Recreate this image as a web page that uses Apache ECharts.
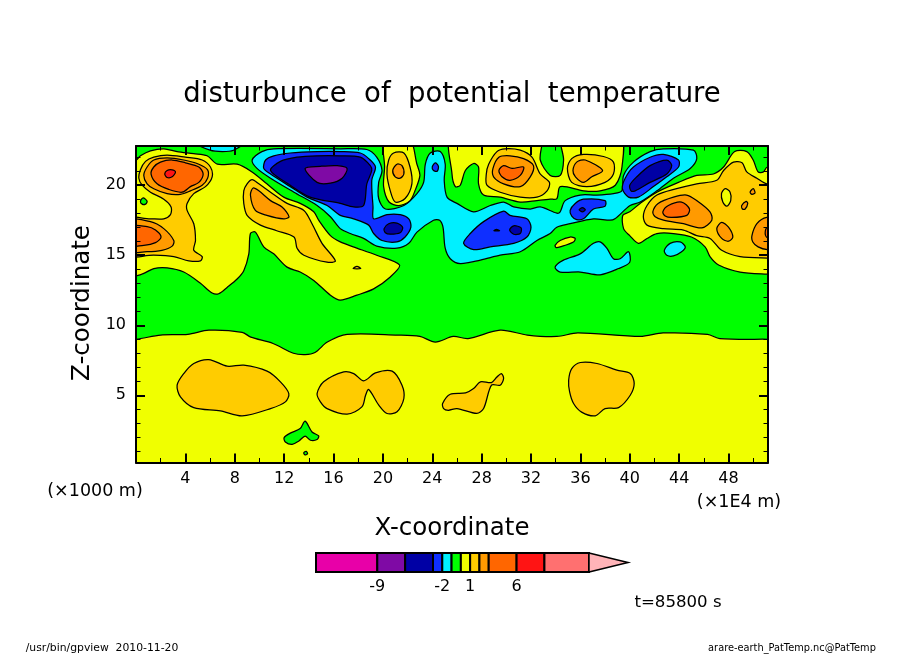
<!DOCTYPE html>
<html><head><meta charset="utf-8">
<style>html,body{margin:0;padding:0;background:#fff}#c{width:904px;height:654px}</style>
<script src="https://cdn.jsdelivr.net/npm/echarts@6/dist/echarts.min.js"></script>
</head><body><div id="c"></div>
<script>
// tick values
const xMajor=[4,8,12,16,20,24,28,32,36,40,44,48];
const xMinor=[2,6,10,14,18,22,26,30,34,38,42,46,50];
const zMajor=[5,10,15,20];
const zMinor=[1,2,3,4,6,7,8,9,11,12,13,14,16,17,18,19,21,22];
// colour-bar
const barLevels=[-15.6,-9,-6,-3,-2,-1,0,1,2,3,6,9,13.8];
const barTip=18;
const barLabels=[-9,-2,1,6];
const MAG='#e800a8',PUR='#7f0aa5',NAVY='#0000a5',BLUE='#0f2fff',CYAN='#00f0ff',GREEN='#00ff00',YEL='#f0ff00',GOLD='#ffcc00',ORA='#ff9a00',DOR='#ff6600',RED='#ff1414',SAL='#ff7070',PINK='#ffb4b8';
const barColors=[MAG,PUR,NAVY,BLUE,CYAN,GREEN,YEL,GOLD,ORA,DOR,RED,SAL];
// contour regions: [x, z] in axis units
const greenBand=[[-1,9],[0,9],[2,9.3],[4.2,9.35],[5.9,9.65],[8.6,9.5],[9.3,9.15],[11.1,8.7],[12.75,8],[13.7,7.9],[14.5,8.05],[15.5,8.8],[17.1,9.35],[21.2,9.3],[23,9.2],[24.25,8.8],[25.7,9.2],[26.9,9.05],[29.5,9.65],[31.7,9.3],[34.1,9.2],[35.8,9.45],[40.85,9.2],[42.7,9.45],[46.3,9.35],[47.3,9.05],[51.2,9],[53,9],[53,25],[-1,25]];
const cyanStrip=[[4.4,23.2],[6,22.5],[7,22.4],[7.9,22.5],[9,23.2]];
const yellowLeft=[[-1,21.7],[0,21.8],[.36,22.1],[1.17,22.45],[2.25,22.6],[3.33,22.4],[4.68,22.25],[5.76,22.1],[6.6,21.5],[8.2,21.5],[9.4,20.95],[10.6,20.1],[11.97,19.15],[13.3,18.7],[14.4,18.1],[14.8,17.5],[15.75,16.4],[16.55,15.95],[17.6,15.6],[19.5,15],[21.35,14.3],[20.6,13.45],[19.25,12.6],[17.9,12.15],[16.55,11.8],[15.75,12.15],[14.4,13.2],[13.3,13.8],[12.24,14.15],[11.16,15.1],[10.35,15.6],[9.67,16.65],[9.27,16.55],[9.14,15.1],[8.73,13.9],[8.19,13.3],[7.38,12.7],[6.7,12.25],[6.17,12.3],[5.22,13],[3.87,13.8],[2.52,14.1],[1.44,14.05],[.63,13.7],[.09,13.55],[-1,13.5]];
const goldTiny=[[17.6,14.05],[18.2,14.05],[17.9,14.2]];
const goldLeft=[[.23,20.5],[.36,21.1],[.77,21.7],[1.44,22],[2.52,22.15],[4,22],[5.36,21.8],[6.03,21.3],[6.17,20.6],[5.63,19.9],[4.68,19.4],[4.14,18.7],[4.14,18.2],[4.68,17.25],[4.82,16.05],[4.68,15.35],[5.36,14.9],[5.22,14.6],[4.28,14.6],[3.06,14.9],[1.44,15],[-1,15],[-1,17.6],[1.17,17.6],[2.25,17.6],[2.79,17.9],[2.84,18.45],[2.25,19],[1.17,19.5],[.5,20]];
const orangeTop=[[.63,20.7],[.9,21.3],[1.44,21.8],[2.52,21.95],[3.87,21.8],[5.09,21.5],[5.8,21.1],[5.8,20.5],[5.36,20],[4.41,19.6],[3.6,19.35],[2.52,19.4],[1.44,19.75],[.9,20.1]];
const darkTop=[[1.22,20.8],[1.44,21.3],[1.98,21.65],[2.93,21.8],[4,21.6],[5.09,21.3],[5.44,20.8],[5.09,20.2],[4.41,19.9],[3.73,19.5],[2.65,19.7],[1.71,20.1]];
const redTop=[[2.33,20.8],[2.52,21.05],[2.93,21.1],[3.2,20.95],[2.93,20.6],[2.52,20.55]];
const orangeLow=[[-1,17.5],[1.17,17.4],[2.25,16.9],[3.06,16.05],[2.93,15.65],[2.1,15.35],[.9,15.25],[-1,15.3]];
const darkLow=[[-1,17.05],[.9,17.05],[1.58,16.8],[2.03,16.3],[1.58,15.9],[.63,15.7],[-1,15.7]];
const greenDot=[[.36,18.85],[.58,19.1],[.9,18.85],[.77,18.65],[.5,18.65]];
const goldMid=[[8.73,19.6],[9,20.1],[9.41,20.4],[9.95,20.1],[10.9,19.5],[12.24,18.7],[13.6,18.2],[14.26,17.25],[15.07,15.85],[16.15,14.6],[15.48,14.5],[13.6,15],[13.05,15.5],[12.8,16.3],[11.4,16.75],[10.08,17.15],[9,17.85],[8.73,18.7]];
const orangeMid=[[9.27,19.3],[9.49,19.8],[9.95,19.6],[10.9,18.9],[11.83,18.45],[12.4,17.75],[11.97,17.6],[10.6,17.85],[9.67,18.2]];
const cyanMain=[[9.41,21.8],[10.2,22.4],[11.16,22.6],[16.55,22.6],[18.7,22.55],[19.5,22],[19.93,21.05],[19.66,20.2],[19.66,19.05],[20.2,18.3],[21.7,18.55],[22.76,19.4],[23.3,20.2],[23.44,21.5],[23.84,22.3],[24.65,22.4],[25.05,21.5],[24.97,20.35],[25.2,19.15],[26,18.7],[27.35,18.1],[28.7,18.55],[29.78,18.8],[30.6,18.45],[31.94,18.3],[32.75,18.45],[34.1,18],[34.36,18.1],[34.77,18.9],[35.98,19.3],[37.33,19.3],[38.68,19.4],[39.36,19.6],[39.5,20.7],[40.3,21.65],[41.65,22.4],[42.73,22.6],[45.16,22.5],[45.43,21.9],[44.9,21.2],[43.54,20.5],[42.2,19.6],[40.84,18.8],[40.03,18.55],[38.8,17.6],[38.4,17.5],[37.06,17.6],[35.17,17.25],[34.09,17],[33.55,16.55],[32.48,16.05],[31.13,15.25],[29.5,15],[27.9,14.65],[26.27,14.4],[25.46,14.75],[25.05,15.5],[24.87,17],[24.6,17.5],[24.1,17.5],[22.76,16.65],[22.1,15.85],[21.14,15.5],[19.5,15.65],[18.44,16.2],[17.36,16.55],[16.55,16.9],[15.75,17.75],[14.67,18.55],[12.8,19.5],[10.9,20.5],[9.8,21.2]];
const blueMain=[[10.35,21.2],[10.5,21.8],[11.16,22.1],[12.5,22.3],[14.67,22.4],[16.55,22.4],[18.17,22.3],[18.85,21.9],[19.4,21.3],[19.1,20.35],[19.2,18.45],[19.25,17.6],[20.33,17.9],[21.4,17.9],[22.1,17.6],[22.27,17],[21.8,16.3],[21.14,15.95],[19.93,16.05],[19.25,16.55],[18.85,17.15],[17.63,17.6],[16.55,17.85],[15.48,18.55],[13.86,19.15],[12.5,19.9],[10.9,20.8]];
const navyMain=[[10.9,21.05],[11.7,21.7],[13.05,22],[14.67,22.1],[16.55,22.1],[18.17,22],[18.98,21.4],[19.1,21.05],[18.7,20.1],[18.44,18.55],[17.63,18.45],[16.55,18.7],[14.1,19.15],[12.5,20]];
const purpleMain=[[13.7,21.2],[14.94,21.35],[16.3,21.4],[17.1,21.2],[16.7,20.5],[15.75,20.15],[14.67,20.2]];
const navySpot1=[[20.1,16.9],[20.47,17.25],[21.14,17.3],[21.6,17],[21.4,16.6],[20.6,16.5],[20.2,16.6]];
const blueTopSpot=[[24,21.3],[24.25,21.6],[24.5,21.35],[24.4,21],[24.1,21.05]];
const blue2=[[26.54,15.85],[27.08,16.55],[28.16,17.4],[29.78,18.15],[30.3,17.85],[31.67,17.6],[32,17],[31.67,16.3],[30.6,15.85],[28.7,15.6],[27.35,15.4]];
const navySpot2=[[30.27,16.8],[30.6,17.1],[31.2,16.95],[31.13,16.55],[30.6,16.5]];
const navyTiny=[[29,16.75],[29.45,16.75],[29.2,16.85]];
const blue3=[[35.17,18.2],[35.58,18.7],[36.25,19],[38,18.9],[38,18.5],[37.06,18.3],[36.25,17.6],[35.7,17.55],[35.3,17.8]];
const navy3=[[35.9,18.25],[36.17,18.4],[36.4,18.25],[36.17,18.1]];
const blue4=[[39.4,19.75],[39.63,20.5],[40.3,21.3],[41.65,22],[42.73,22.2],[43.95,21.8],[43.95,21.3],[43,20.6],[41.92,19.9],[40.7,19.15],[39.9,19.15]];
const navy4=[[40,20],[40.57,20.6],[41.65,21.4],[43,21.8],[43.4,21.4],[43,20.8],[41.65,20.2],[40.44,19.6],[40.1,19.6]];
const yellowRight=[[39.44,17.85],[40,18.1],[40.84,18.7],[42.2,19.5],[43.95,20.2],[45.43,20.7],[46.78,20.8],[47.6,21.3],[48.5,22.4],[49.48,22.4],[50,21.8],[50.4,20.95],[50.83,20.95],[51.15,21.3],[53,21.3],[53,13.6],[51.15,13.65],[48.94,13.8],[47.2,14.3],[46.5,14.9],[46.1,15.6],[45,16.3],[43.54,16.55],[42.2,16.55],[41.4,16.2],[40.7,15.85],[40,16.4],[39.5,16.9]];
const goldRight=[[41.1,17.75],[41.4,18.55],[42.2,19.3],[43.8,19.75],[45.43,20.1],[47.05,20.35],[47.6,21.05],[48.4,21.65],[49.1,21.6],[49.48,20.95],[50.3,20.5],[51.1,20.1],[53,20.1],[53,14.8],[51.15,14.8],[48.94,14.9],[47.45,15.35],[46.5,16.2],[45.43,16.4],[44.35,16.8],[42.73,16.9],[41.4,17.15]];
const yellowHole=[[47.43,19.4],[47.73,19.75],[48.13,19.5],[48.18,18.9],[47.86,18.5],[47.54,18.8]];
const orangeS1=[[49.75,19.5],[50,19.75],[50.15,19.45],[49.9,19.35]];
const orangeS2=[[49.07,18.55],[49.43,18.85],[49.56,18.7],[49.35,18.3],[49.13,18.3]];
const orangeS3=[[47.05,16.9],[47.45,17.35],[48,17],[48.35,16.3],[48,16],[47.45,16.2]];
const orangeEdge=[[49.9,16.4],[50.3,17.25],[51.1,17.7],[53,17.7],[53,15.4],[51.15,15.4],[50.4,15.6],[49.97,15.95]];
const darkEdge=[[50.97,16.55],[51.15,17],[52,17],[52,16.2],[51.15,16.25]];
const orangeRight=[[41.87,18.1],[42.3,18.7],[43.54,19.15],[44.6,19.3],[45.43,18.9],[46.5,18.1],[46.65,17.5],[45.84,16.95],[44.35,17.25],[42.73,17.5],[42.06,17.75]];
const darkRight=[[42.68,18.1],[43.13,18.55],[44.2,18.8],[44.84,18.3],[44.62,17.85],[43.4,17.7],[42.87,17.8]];
const yellow2=[[20.1,23.5],[22.1,23.5],[22.76,21.5],[23,20.7],[22.6,19.6],[22.2,18.9],[21.3,18.55],[20.5,18.8],[20.06,19.9],[20.14,21.3]];
const gold2=[[20.47,21.8],[20.87,22.3],[21.7,22.3],[22.2,21.3],[22.35,20.1],[21.8,19.05],[21,18.8],[20.6,19.6],[20.33,20.8]];
const orange2=[[20.8,21.05],[21.14,21.5],[21.55,21.4],[21.7,20.8],[21.4,20.5],[21,20.6]];
const yellow3=[[25.6,23.5],[32.75,23.5],[32.75,21.8],[33.56,20.7],[34.37,20.7],[34.64,21.8],[34.5,23.5],[39.23,23.5],[39.37,21.3],[38.83,20],[37.6,19.6],[36.26,19.6],[34.37,19.9],[34.1,19.05],[33.56,19],[32.48,18.9],[31.13,18.8],[29.5,19.15],[28.16,19.3],[27.75,20.1],[27.75,21.3],[27.35,21.55],[26.68,21.05],[26.27,20],[25.87,19.9],[25.6,20.8]];
const gold3=[[28.38,20.8],[28.57,21.5],[29.24,22.4],[29.9,22.6],[31.13,22.5],[32.08,22],[32.75,20.8],[33.5,20.2],[33.3,19.6],[32.48,19.15],[31.13,19.15],[29.5,19.5],[28.43,20]];
const orange3=[[28.92,21.2],[29.4,22],[30.3,22.1],[31.4,21.9],[32.2,21.4],[31.94,20.6],[31.13,19.9],[29.78,20.1],[28.97,20.6]];
const dark3=[[29.4,21.05],[29.78,21.4],[30.46,21.2],[31.4,21.3],[31.13,20.7],[30.3,20.35],[29.65,20.6]];
const gold4=[[34.95,21.2],[35.3,21.9],[36.25,22.2],[37.87,22.05],[38.68,21.65],[38.68,20.8],[38,20.2],[36.52,19.9],[35.3,20.2]];
const orange4=[[35.4,21.05],[35.7,21.65],[36.4,21.8],[37.8,21.05],[36.93,20.6],[36.25,20.2],[35.6,20.6]];
const yellowSmall=[[33.95,15.7],[34.36,16.05],[35.17,16.3],[35.58,16.2],[35.44,15.95],[34.36,15.6],[34.04,15.55]];
const cyan2=[[33.95,14.15],[34.63,14.65],[35.98,15.1],[37.06,15.85],[37.6,15.95],[38.14,15.5],[38.68,14.75],[39.22,14.75],[39.9,15.25],[40,14.5],[39.1,14.05],[37.6,13.6],[36,13.8],[34.36,13.8]];
const cyan3=[[42.8,15.35],[43.27,15.85],[44.08,15.95],[44.5,15.6],[44.2,15.25],[43.54,14.95],[43,15]];
const blobA=[[3.33,5.72],[3.87,6.55],[4.68,7.27],[5.9,7.55],[7.38,7.08],[8.73,7.15],[10.62,6.72],[11.7,5.96],[12.38,5.12],[12.1,4.53],[10.9,4.05],[8.6,3.53],[6.84,3.89],[4.68,4.12],[3.6,4.89]];
const blobB=[[14.67,5.12],[15.2,5.96],[16.83,6.67],[17.64,6.55],[18.45,6.03],[19.4,6.6],[20.75,6.72],[21.55,5.72],[21.7,4.77],[21.15,3.82],[20.34,3.7],[19.67,4.3],[18.85,5.41],[18.6,5],[18.3,4.17],[17.1,3.65],[15.48,4.05],[14.94,4.53]];
const blobC=[[24.84,4.41],[25.46,5.07],[26.7,5.17],[27.35,5.48],[27.9,5.96],[28.8,5.91],[29.24,6.3],[29.6,6.55],[29.78,6.2],[29.5,5.72],[28.8,5.72],[28.16,4.05],[27.6,3.7],[26,4.05],[25.3,3.93],[24.92,4.05]];
const blobD=[[35.05,6.07],[35.3,6.9],[36,7.34],[37.34,7.27],[38.96,6.79],[40.04,6.55],[40.36,5.84],[40.04,5],[39.1,4.12],[38,4.05],[37.2,3.53],[36.1,3.8],[35.45,4.41],[35.13,5.24]];
const greenLow=[[12,1.98],[12.5,2.3],[13.3,2.62],[13.7,3.15],[14.26,2.38],[14.8,2.1],[14.67,1.84],[14.13,1.79],[13.7,2.08],[13.2,1.74],[12.65,1.5],[12.1,1.67]];
const greenTiny=[[13.59,.89],[13.78,1],[13.9,.84],[13.7,.74]];

const layers=[
 [GREEN,greenBand],[CYAN,cyanStrip],
 [YEL,yellowLeft],[GOLD,goldTiny],[GOLD,goldLeft],[ORA,orangeTop],[DOR,darkTop],[RED,redTop],[ORA,orangeLow],[DOR,darkLow],[GREEN,greenDot],
 [GOLD,goldMid],[ORA,orangeMid],
 [CYAN,cyanMain],[BLUE,blueMain],[NAVY,navyMain],[PUR,purpleMain],[NAVY,navySpot1],[BLUE,blueTopSpot],
 [BLUE,blue2],[NAVY,navySpot2],[NAVY,navyTiny],[BLUE,blue3],[NAVY,navy3],[BLUE,blue4],[NAVY,navy4],
 [YEL,yellowRight],[GOLD,goldRight],[YEL,yellowHole],[ORA,orangeS1],[ORA,orangeS2],[ORA,orangeS3],[ORA,orangeEdge],[DOR,darkEdge],[ORA,orangeRight],[DOR,darkRight],
 [YEL,yellow2],[GOLD,gold2],[ORA,orange2],
 [YEL,yellow3],[GOLD,gold3],[ORA,orange3],[DOR,dark3],[GOLD,gold4],[ORA,orange4],
 [YEL,yellowSmall],[CYAN,cyan2],[CYAN,cyan3],
 [GOLD,blobA],[GOLD,blobB],[GOLD,blobC],[GOLD,blobD],[GREEN,greenLow],[GREEN,greenTiny]
];

const FONT='DejaVu Sans';
const xR={min:0,max:51.2}, zR={min:0.2,max:22.8};
function mk(pos,range,vals,len,w,line,label,pad){
 return {type:'value',gridIndex:0,position:pos,min:range.min,max:range.max,z:10,silent:true,
  axisLine:{show:line,onZero:false,lineStyle:{color:'#000',width:2}},
  axisTick:{show:true,inside:true,length:len,customValues:vals,lineStyle:{color:'#000',width:w}},
  axisLabel:label?{show:true,customValues:vals,color:'#000',fontFamily:FONT,fontSize:16,margin:label,padding:pad||0}:{show:false},
  splitLine:{show:false},minorTick:{show:false}};
}
const chart=echarts.init(document.getElementById('c'),null,{renderer:'canvas'});
const txt=(t,x,y,size,rot)=>({type:'text',x,y,rotation:rot||0,style:{text:t,fontFamily:FONT,fontSize:size,fill:'#000',textAlign:'center',textVerticalAlign:'middle'},z:20});
chart.setOption({
 animation:false,backgroundColor:'#fff',
 title:{text:'disturbunce  of  potential  temperature',left:'center',top:76,textAlign:'left',
   textStyle:{fontFamily:FONT,fontSize:27.5,fontWeight:'normal',color:'#000'}},
 grid:[
  {left:136,top:146,width:632,height:316.5,show:true,backgroundColor:YEL,borderWidth:0},
  {left:316,top:553,width:312,height:19,show:false}
 ],
 xAxis:[
  mk('bottom',xR,xMajor,9,2,true,8),
  mk('top',xR,xMajor,9,2,true,0),
  mk('bottom',xR,xMinor,4.5,1,false,0),
  mk('top',xR,xMinor,4.5,1,false,0),
  {type:'value',gridIndex:1,min:barLevels[0],max:barTip,position:'bottom',axisLine:{show:false},axisTick:{show:false},splitLine:{show:false},
   axisLabel:{customValues:barLabels,color:'#000',fontFamily:FONT,fontSize:16,margin:7}}
 ],
 yAxis:[
  mk('left',zR,zMajor,9,2,true,10,[3,0,0,0]),
  mk('right',zR,zMajor,9,2,true,0),
  mk('left',zR,zMinor,4.5,1,false,0),
  mk('right',zR,zMinor,4.5,1,false,0),
  {type:'value',gridIndex:1,min:0,max:1,axisLine:{show:false},axisTick:{show:false},splitLine:{show:false},axisLabel:{show:false}}
 ],
 series:[
  {type:'custom',xAxisIndex:0,yAxisIndex:0,clip:true,silent:true,z:2,
   data:layers.map(l=>[l[1][0][0],l[1][0][1]]),
   renderItem:(p,api)=>{const l=layers[p.dataIndex];
     return {type:'polygon',shape:{points:l[1].map(q=>api.coord(q)),smooth:0.3},
       style:{fill:l[0],stroke:'#000',lineWidth:1.25}};}},
  {type:'custom',xAxisIndex:4,yAxisIndex:4,silent:true,z:3,
   data:barColors.map((c,i)=>[barLevels[i],barLevels[i+1]]),
   renderItem:(p,api)=>{const a=api.coord([api.value(0),1]),b=api.coord([api.value(1),0]);
     return {type:'rect',shape:{x:a[0],y:a[1],width:b[0]-a[0],height:b[1]-a[1]},
       style:{fill:barColors[p.dataIndex],stroke:'#000',lineWidth:2}};}},
  {type:'custom',xAxisIndex:4,yAxisIndex:4,silent:true,z:3,
   data:[[barLevels[barLevels.length-1],barTip]],
   renderItem:(p,api)=>({type:'polygon',shape:{points:[api.coord([api.value(0),1]),api.coord([api.value(1),0.5]),api.coord([api.value(0),0])]},
       style:{fill:PINK,stroke:'#000',lineWidth:1.5}})}
 ],
 graphic:{elements:[
  txt('Z-coordinate',83,303,24.5,Math.PI/2),
  txt('X-coordinate',452,529,24.5),
  txt('(×1000 m)',95,491,17.5),
  txt('(×1E4 m)',739,502,17.5),
  txt('t=85800 s',678,603,16.6),
  txt('/usr/bin/gpview  2010-11-20',102,648,10.8),
  txt('arare-earth_PatTemp.nc@PatTemp',792,648,9.8)
 ]}
});
</script></body></html>
